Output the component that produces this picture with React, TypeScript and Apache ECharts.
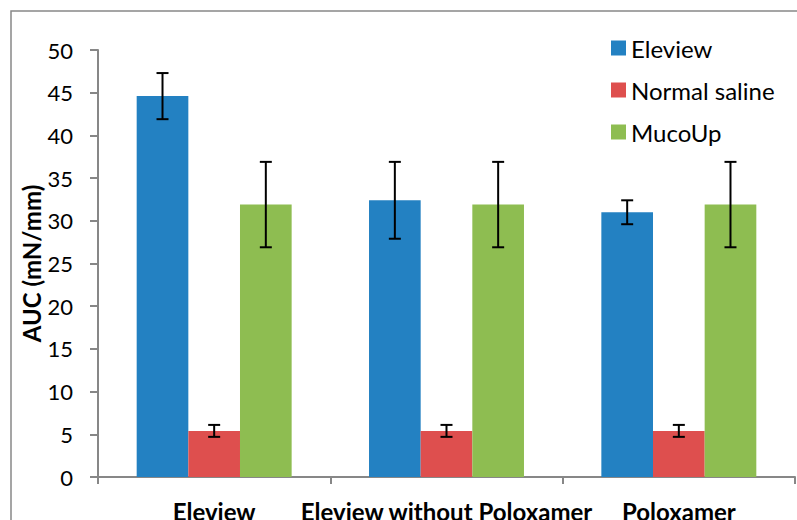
import React, { useEffect, useRef } from "react";
import * as echarts from "echarts";

const categories = ["Eleview", "Eleview without Poloxamer", "Poloxamer"];
const seriesNames = ["Eleview", "Normal saline", "MucoUp"];
const eleviewVals = [44.6, 32.4, 31.0];
const salineVals = [5.4, 5.4, 5.4];
const mucoupVals = [31.9, 31.9, 31.9];
const eleviewErr = [2.7, 4.5, 1.4];
const salineErr = [0.7, 0.7, 0.7];
const mucoupErr = [5.0, 5.0, 5.0];
const colors = ["#2381C2", "#DE4F4E", "#8EBD51"];

const FONT = "Lato";
const CAT_GAP = 0.333;

export default function App() {
  const ref = useRef<HTMLDivElement>(null);
  useEffect(() => {
    document.body.style.margin = "0";
    const chart = echarts.init(ref.current!, null, { renderer: "svg" });
    const values = [eleviewVals, salineVals, mucoupVals];
    const errs = [eleviewErr, salineErr, mucoupErr];
    const barSeries = seriesNames.map((name, i) => ({
      name,
      type: "bar",
      data: values[i],
      barGap: "0%",
      barCategoryGap: "33.3%",
      itemStyle: { color: colors[i] },
    }));
    const errSeries = seriesNames.map((name, i) => ({
      name: name + " err",
      type: "custom",
      data: categories.map((_, j) => [j, values[i][j] - errs[i][j], values[i][j] + errs[i][j]]),
      encode: { x: 0, y: [1, 2] },
      z: 5,
      renderItem: (params: any, api: any) => {
        const catW = api.size([1, 0])[0];
        const barW = (catW * (1 - CAT_GAP)) / 3;
        const off = (i - 1) * barW;
        const lo = api.coord([api.value(0), api.value(1)]);
        const hi = api.coord([api.value(0), api.value(2)]);
        const x = lo[0] + off;
        const cap = 6;
        const style = { stroke: "#000", lineWidth: 2 };
        return {
          type: "group",
          children: [
            { type: "line", shape: { x1: x, y1: lo[1], x2: x, y2: hi[1] }, style },
            { type: "line", shape: { x1: x - cap, y1: lo[1], x2: x + cap, y2: lo[1] }, style },
            { type: "line", shape: { x1: x - cap, y1: hi[1], x2: x + cap, y2: hi[1] }, style },
          ],
        };
      },
    }));
    chart.setOption({
      animation: false,
      textStyle: { fontFamily: FONT },
      graphic: [
        {
          type: "rect",
          shape: { x: 11, y: 11, width: 800, height: 520 },
          style: { fill: "none", stroke: "#888", lineWidth: 1.5 },
          silent: true,
        },
      ],
      grid: { left: 98, right: 2, top: 50, bottom: 43, containLabel: false, outerBoundsMode: "none" },
      legend: {
        data: seriesNames,
        orient: "vertical",
        left: 606,
        top: 31,
        itemWidth: 15,
        itemHeight: 15,
        itemGap: 18,
        icon: "rect",
        textStyle: { fontFamily: FONT, fontSize: 24, color: "#000" },
      },
      xAxis: {
        type: "category",
        data: categories,
        axisLine: { lineStyle: { color: "#878787", width: 2 } },
        axisTick: { show: true, length: 7, lineStyle: { color: "#878787", width: 2 } },
        axisLabel: {
          interval: 0,
          fontFamily: FONT,
          fontSize: 24,
          fontWeight: "bold",
          color: "#000",
          margin: 22,
        },
      },
      yAxis: {
        type: "value",
        min: 0,
        max: 50,
        interval: 5,
        name: "AUC (mN/mm)",
        nameLocation: "middle",
        nameGap: 55,
        nameMoveOverlap: false,
        nameTextStyle: { fontFamily: FONT, fontSize: 24, fontWeight: "bold", color: "#000" },
        axisLine: { show: true, lineStyle: { color: "#878787", width: 2 } },
        axisTick: { show: true, length: 8, lineStyle: { color: "#878787", width: 2 } },
        axisLabel: { fontFamily: FONT, fontSize: 22, color: "#000", margin: 25 },
        splitLine: { show: false },
      },
      series: [...barSeries, ...errSeries],
    });
    return () => chart.dispose();
  }, []);
  return <div ref={ref} style={{ width: 797, height: 520 }} />;
}
